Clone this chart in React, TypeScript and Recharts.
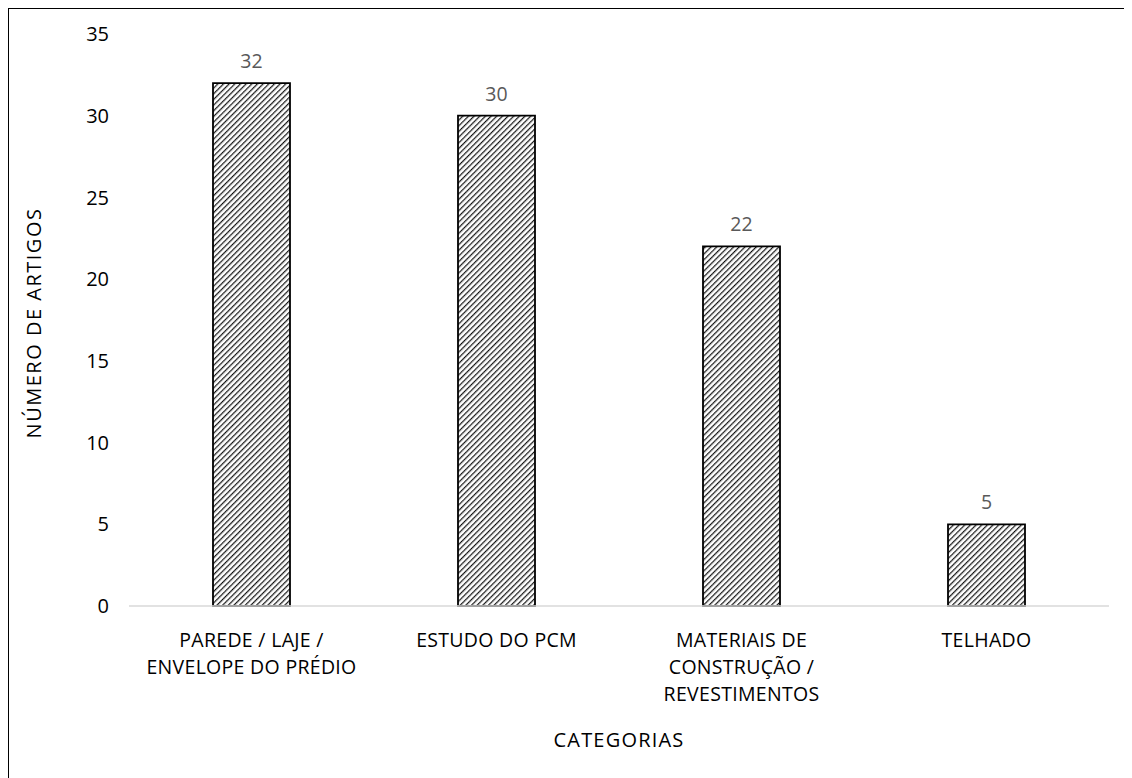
import React from "react";
import { BarChart, Bar, XAxis, YAxis, LabelList, Label } from "recharts";

const categories = [
  ["PAREDE / LAJE /", "ENVELOPE DO PRÉDIO"],
  ["ESTUDO DO PCM"],
  ["MATERIAIS DE", "CONSTRUÇÃO /", "REVESTIMENTOS"],
  ["TELHADO"],
];
const articleCounts = [32, 30, 22, 5];
const yTicks = [0, 5, 10, 15, 20, 25, 30, 35];

const data = categories.map((lines, i) => ({
  name: lines.join(" "),
  lines,
  count: articleCounts[i],
}));

const FONT = "'Open Sans', sans-serif";

const CategoryTick = (props: any) => {
  const { x, y, index } = props;
  const lines = data[index]?.lines ?? [];
  return (
    <g transform={`translate(${x},${y})`}>
      {lines.map((l: string, i: number) => (
        <text
          key={i}
          x={0}
          y={33 + i * 27}
          textAnchor="middle"
          fill="#000"
          fontSize={19.5}
          fontFamily={FONT}
          letterSpacing={0.3}
        >
          {l}
        </text>
      ))}
    </g>
  );
};

export default function App() {
  return (
    <div
      style={{
        width: 1124,
        height: 770,
        borderLeft: "1px solid #000",
        borderTop: "1px solid #000",
        boxSizing: "border-box",
        background: "#fff",
      }}
    >
      <BarChart
        width={1123}
        height={769}
        data={data}
        margin={{ top: 25, right: 23, left: 0, bottom: 0 }}
        barCategoryGap={0}
      >
        <defs>
          <pattern
            id="hatch"
            patternUnits="userSpaceOnUse"
            width={4}
            height={4}
            patternTransform="rotate(45)"
          >
            <rect width={4} height={4} fill="#fff" />
            <line x1={0} y1={0} x2={0} y2={4} stroke="#000" strokeWidth={2.6} strokeDasharray="1.7 0.4" />
          </pattern>
        </defs>
        <XAxis
          dataKey="name"
          height={172}
          tickLine={false}
          axisLine={{ stroke: "#d9d9d9", strokeWidth: 1.5 }}
          tick={<CategoryTick />}
          interval={0}
        >
          <Label
            content={() => (
              <text
                x={120 + 490}
                y={738}
                textAnchor="middle"
                fontSize={20}
                fontFamily={FONT}
                fill="#000"
                letterSpacing={1.2}
              >
                CATEGORIAS
              </text>
            )}
          />
        </XAxis>
        <YAxis
          width={120}
          domain={[0, 35]}
          ticks={yTicks}
          tickLine={false}
          axisLine={false}
          tickMargin={14}
          tick={{ fill: "#000", fontSize: 20, fontFamily: FONT }}
        >
          <Label
            content={() => (
              <text
                x={32}
                y={314}
                transform="rotate(-90, 32, 314)"
                textAnchor="middle"
                fontSize={20}
                fontFamily={FONT}
                fill="#000"
                letterSpacing={1.5}
              >
                NÚMERO DE ARTIGOS
              </text>
            )}
          />
        </YAxis>
        <Bar
          dataKey="count"
          fill="url(#hatch)"
          stroke="#000"
          strokeWidth={1.8}
          barSize={77}
          isAnimationActive={false}
        >
          <LabelList
            dataKey="count"
            position="top"
            offset={15}
            fill="#595959"
            fontSize={19.5}
            fontFamily={FONT}
          />
        </Bar>
      </BarChart>
    </div>
  );
}
